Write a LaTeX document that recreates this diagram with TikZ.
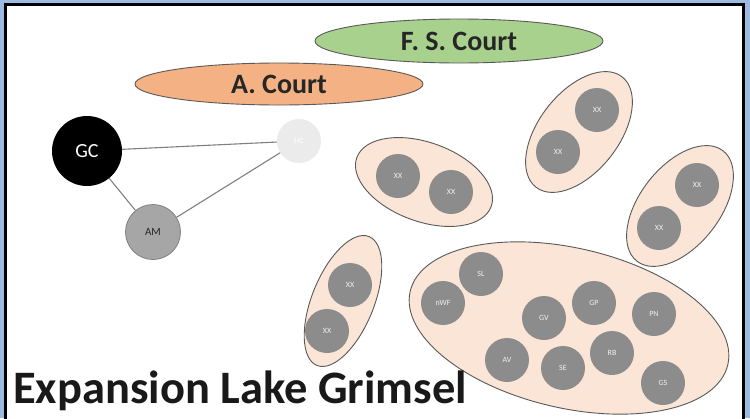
\documentclass[tikz,border=0pt]{standalone}
\usepackage{fontspec}
\setmainfont{Carlito}
\usetikzlibrary{shapes.geometric}
\definecolor{bgblue}{RGB}{157,187,226}
\definecolor{fsgreen}{RGB}{169,209,142}
\definecolor{acorange}{RGB}{244,177,131}
\definecolor{clfill}{RGB}{251,229,214}
\definecolor{nodegray}{RGB}{140,140,140}
\definecolor{amgray}{RGB}{166,166,166}
\definecolor{hcgray}{RGB}{235,235,235}
\definecolor{edgegray}{RGB}{89,89,89}
\tikzset{
  court/.style={ellipse, draw=edgegray, line width=0.9pt, inner sep=0pt, font=\fontsize{28}{32}\selectfont\bfseries, text=black!85},
  cluster/.style={ellipse, draw=edgegray, line width=0.9pt, fill=clfill, inner sep=0pt},
  member/.style={circle, fill=nodegray, minimum size=44pt, inner sep=0pt, text=white!88!gray, font=\fontsize{8}{9}\selectfont},
  link/.style={draw=gray, line width=1.1pt}
}
\begin{document}
\begin{tikzpicture}[x=1pt,y=-1pt]
\useasboundingbox (0,0) rectangle (750,418);
\fill[bgblue] (0,0) rectangle (750,418);
\fill[white] (5.5,4.5) rectangle (743.5,418);
\draw[black, line width=3pt] (5.5,420) -- (5.5,4.5) -- (743.5,4.5) -- (743.5,420);
% courts
\node[court, fill=fsgreen, minimum width=288pt, minimum height=44pt] (fs) at (459,41) {F. S. Court};
\node[court, fill=acorange, minimum width=288pt, minimum height=42pt] (ac) at (279,84) {A. Court};
% clusters
\node[cluster, minimum width=143pt, minimum height=79pt, rotate=-20] (c1) at (424,182) {};
\node[cluster, minimum width=140pt, minimum height=80pt, rotate=52] (c2) at (579,132) {};
\node[cluster, minimum width=140pt, minimum height=80pt, rotate=52] (c3) at (680,206) {};
\node[cluster, minimum width=139pt, minimum height=62pt, rotate=68] (c4) at (343,301) {};
\node[cluster, minimum width=326pt, minimum height=160pt, rotate=-13] (c5) at (569,328) {};
% members
\node[member] (x11) at (398,176) {XX};
\node[member] (x12) at (451,192) {XX};
\node[member] (x21) at (597,110) {XX};
\node[member] (x22) at (558,152) {XX};
\node[member] (x31) at (697,185) {XX};
\node[member] (x32) at (659,228) {XX};
\node[member] (x41) at (350,285) {XX};
\node[member] (x42) at (327,331) {XX};
\node[member] (sl) at (481,274) {SL};
\node[member] (nwf) at (443,303) {nWF};
\node[member] (gv) at (544,318) {GV};
\node[member] (gp) at (594,303) {GP};
\node[member] (pn) at (654,314) {PN};
\node[member] (av) at (507,360) {AV};
\node[member] (se) at (563,368) {SE};
\node[member] (rb) at (612,353) {RB};
\node[member] (gs) at (663,383) {GS};
% left graph
\node[circle, fill=black, minimum size=70pt, inner sep=0pt, text=white, font=\fontsize{20}{24}\selectfont] (gc) at (87,151) {GC};
\node[circle, fill=hcgray, minimum size=44pt, inner sep=0pt, text=white, font=\fontsize{8}{9}\selectfont] (hc) at (299,141) {HC};
\node[circle, fill=amgray, draw=gray, line width=0.8pt, minimum size=55pt, inner sep=0pt, text=black!85, font=\fontsize{11}{13}\selectfont] (am) at (153,232) {AM};
\draw[link] (gc) -- (hc);
\draw[link] (gc) -- (am);
\draw[link] (am) -- (hc);
% title
\node[anchor=base west, inner sep=0pt, font=\fontsize{46.5}{52}\selectfont\bfseries, text=black!90] (title) at (13,403) {Expansion Lake Grimsel};
\end{tikzpicture}
\end{document}
